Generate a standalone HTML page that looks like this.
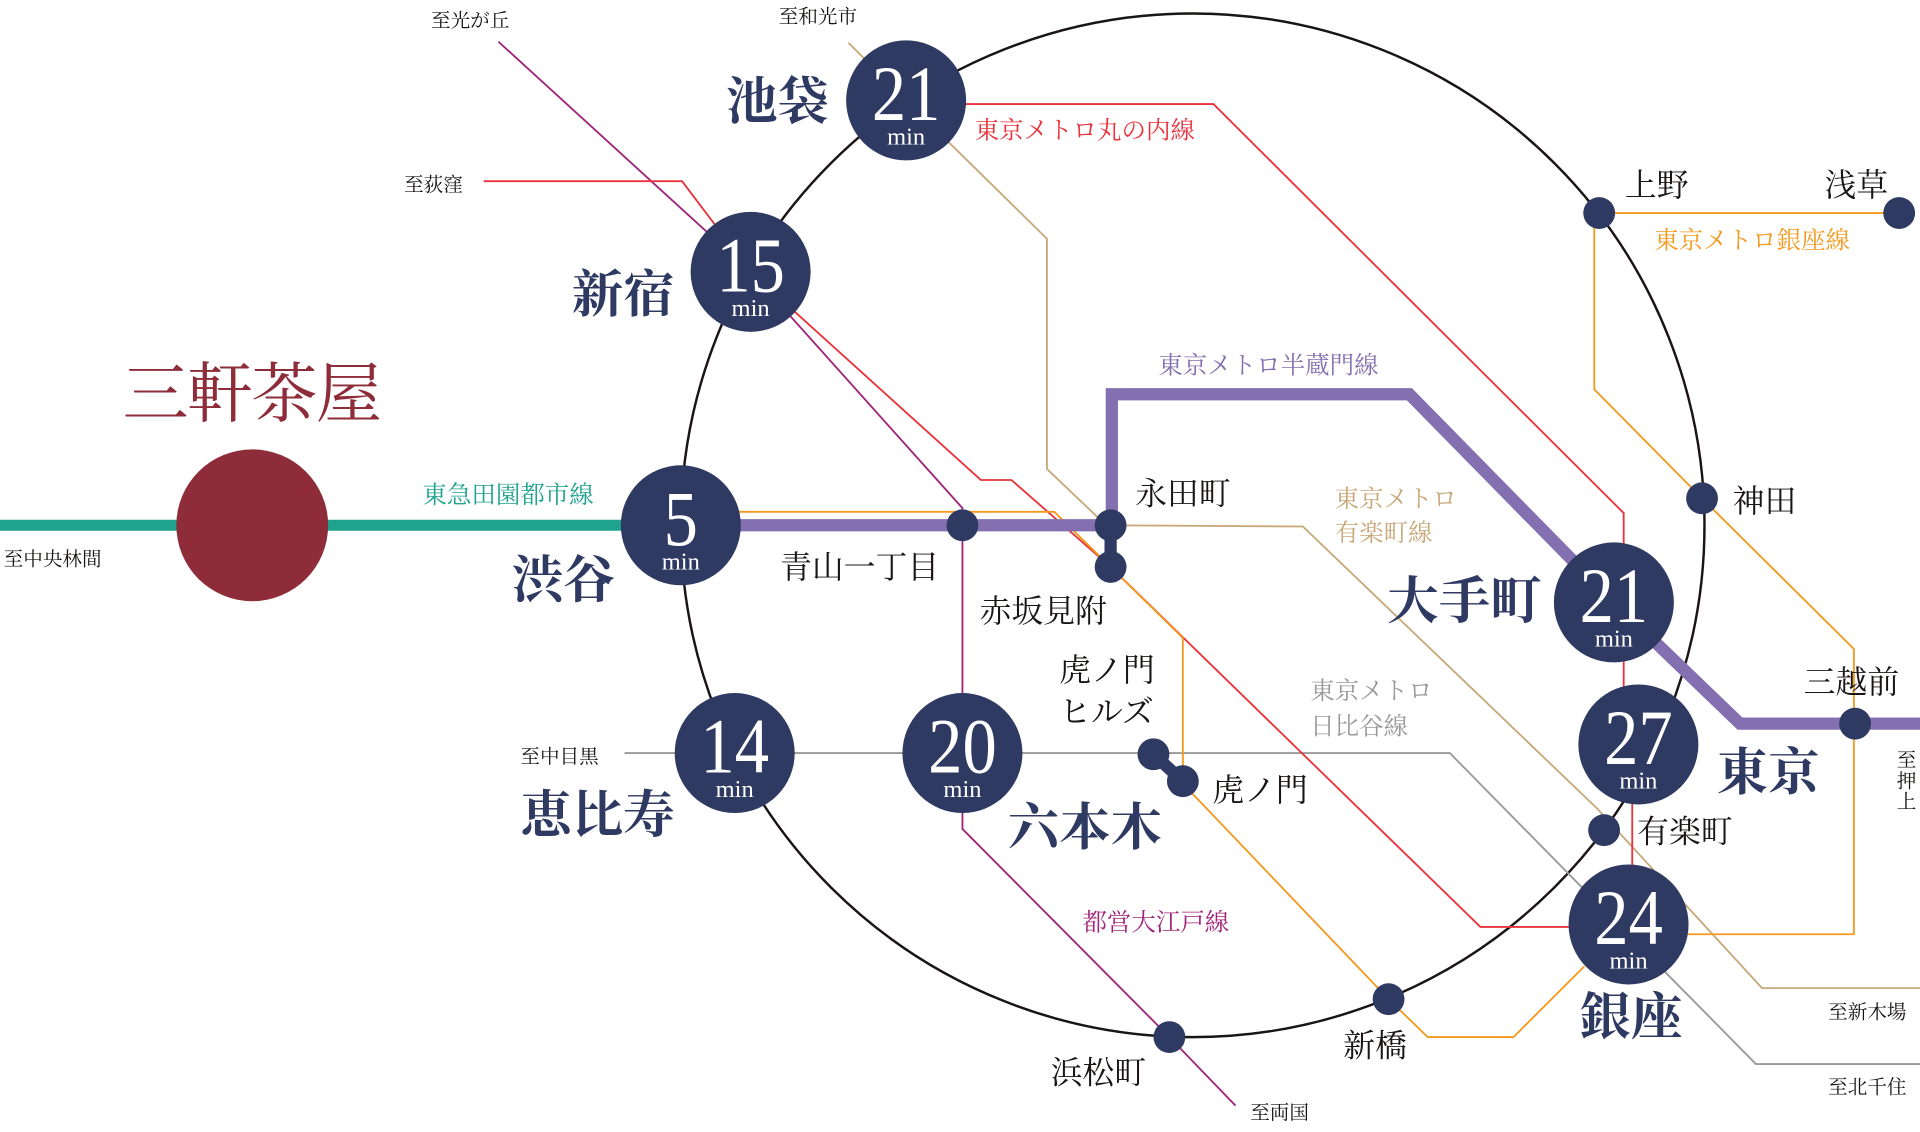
<!DOCTYPE html>
<html><head><meta charset="utf-8"><style>
html,body{margin:0;padding:0;background:#fff;}
svg{display:block;}
text{font-family:"Liberation Serif","Noto Serif CJK SC",serif;}
.n{fill:#fff;font-size:64px;text-anchor:middle;}
.m{fill:#fff;font-size:20px;text-anchor:middle;}
.bl{fill:#2f3a63;font-size:42px;font-weight:bold;}
.k{fill:#1a1414;font-size:26px;}
.s{fill:#1a1414;font-size:16px;}
.c{font-size:20px;}
</style></head><body>
<svg width="1920" height="1132" viewBox="0 0 1568 924.5" preserveAspectRatio="none" xmlns="http://www.w3.org/2000/svg">
<g fill="none" stroke-linejoin="miter">
<circle cx="974" cy="429" r="418" stroke="#1a1414" stroke-width="2"/>
<polyline points="693,35 740,82 855,195 855,383 896,422 907,429 1064,430 1304,660 1439,807 1568,807" stroke="#c8a87a" stroke-width="1.5"/>
<polyline points="510,615 942,615 1184,615 1361,795 1434,869 1568,869" stroke="#999" stroke-width="1.5"/>
<polyline points="407,34 613,222 786,415 786,677 955,847 1009,903" stroke="#a0257a" stroke-width="1.5"/>
<polyline points="395,148 557,148 613,222 801,392 826,392 907,463 1209,757 1330,757" stroke="#e8343c" stroke-width="1.5"/>
<polyline points="740,85 991,85 1326,419 1326,560 1333,620 1333,757" stroke="#e8343c" stroke-width="1.5"/>
<polyline points="556,418 861,418 966,521 966,640 1134,816 1166,847 1236,847 1294,789" stroke="#f39a1e" stroke-width="1.5"/>
<polyline points="1551,174 1302,174 1302,318 1390,407 1514,530 1514,763 1330,763" stroke="#f39a1e" stroke-width="1.5"/>
<line x1="0" y1="429" x2="556" y2="429" stroke="#1fa38e" stroke-width="9"/>
<polyline points="556,429 908,429 908,322 1151,322 1318,492 1421,591 1568,591" stroke="#8470b0" stroke-width="10"/>
<line x1="907" y1="429" x2="907" y2="463" stroke="#2f3a63" stroke-width="10"/>
<line x1="942" y1="616" x2="966" y2="638" stroke="#2f3a63" stroke-width="10"/>
</g>
<circle cx="206" cy="429" r="62" fill="#8e2d39"/>
<g fill="#2f3a63">
<circle cx="740" cy="82" r="49"/><circle cx="613" cy="222" r="49"/><circle cx="556" cy="429" r="49"/>
<circle cx="600" cy="615" r="49"/><circle cx="786" cy="615" r="49"/><circle cx="1318" cy="492" r="49"/>
<circle cx="1338" cy="608" r="49"/><circle cx="1330" cy="755" r="49"/>
<circle cx="1306" cy="174" r="13"/><circle cx="1551" cy="174" r="13"/><circle cx="1390" cy="407" r="13"/>
<circle cx="1515" cy="591" r="13"/><circle cx="786" cy="429" r="13"/><circle cx="907" cy="429" r="13"/>
<circle cx="907" cy="463" r="13"/><circle cx="942" cy="616" r="13"/><circle cx="966" cy="638" r="13"/>
<circle cx="1310" cy="678" r="13"/><circle cx="1134" cy="816" r="13"/><circle cx="955" cy="847" r="13"/>
</g>
<g>
<text class="n" x="740" y="98" textLength="56" lengthAdjust="spacingAndGlyphs">21</text><text class="m" x="740" y="118">min</text>
<text class="n" x="613" y="238" textLength="56" lengthAdjust="spacingAndGlyphs">15</text><text class="m" x="613" y="258">min</text>
<text class="n" x="556" y="445" textLength="28" lengthAdjust="spacingAndGlyphs">5</text><text class="m" x="556" y="465">min</text>
<text class="n" x="600" y="631" textLength="56" lengthAdjust="spacingAndGlyphs">14</text><text class="m" x="600" y="651">min</text>
<text class="n" x="786" y="631" textLength="56" lengthAdjust="spacingAndGlyphs">20</text><text class="m" x="786" y="651">min</text>
<text class="n" x="1318" y="508" textLength="56" lengthAdjust="spacingAndGlyphs">21</text><text class="m" x="1318" y="528">min</text>
<text class="n" x="1338" y="624" textLength="56" lengthAdjust="spacingAndGlyphs">27</text><text class="m" x="1338" y="644">min</text>
<text class="n" x="1330" y="771" textLength="56" lengthAdjust="spacingAndGlyphs">24</text><text class="m" x="1330" y="791">min</text>
</g>
<text x="100" y="340" fill="#8e2d39" font-size="54" textLength="212">三軒茶屋</text>
<text class="bl" x="418" y="488">渋谷</text>
<text class="bl" x="467" y="255">新宿</text>
<text class="bl" x="593" y="97">池袋</text>
<text class="bl" x="425" y="680">恵比寿</text>
<text class="bl" x="823" y="690">六本木</text>
<text class="bl" x="1133" y="505">大手町</text>
<text class="bl" x="1402" y="645">東京</text>
<text class="bl" x="1290" y="845">銀座</text>
<text class="k" x="637" y="472">青山一丁目</text>
<text class="k" x="927" y="412">永田町</text>
<text class="k" x="800" y="508">赤坂見附</text>
<text class="k" x="865" y="556">虎ノ門</text>
<text class="k" x="865" y="590">ヒルズ</text>
<text class="k" x="990" y="654">虎ノ門</text>
<text class="k" x="1337" y="688">有楽町</text>
<text class="k" x="1473" y="566">三越前</text>
<text class="k" x="1415" y="418">神田</text>
<text class="k" x="1327" y="160">上野</text>
<text class="k" x="1490" y="160">浅草</text>
<text class="k" x="1097" y="863">新橋</text>
<text class="k" x="858" y="885">浜松町</text>
<text class="s" x="3" y="462">至中央林間</text>
<text class="s" x="352" y="22">至光が丘</text>
<text class="s" x="636" y="19">至和光市</text>
<text class="s" x="330" y="156">至荻窪</text>
<text class="s" x="425" y="623">至中目黒</text>
<text class="s" x="1021" y="914">至両国</text>
<text class="s" x="1493" y="832">至新木場</text>
<text class="s" x="1493" y="893">至北千住</text>
<text class="s" x="1549" y="626">至</text><text class="s" x="1549" y="643">押</text><text class="s" x="1549" y="660">上</text>
<text class="c" x="345" y="411" fill="#1fa38e">東急田園都市線</text>
<text class="c" x="796" y="113" fill="#e8343c">東京メトロ丸の内線</text>
<text class="c" x="1351" y="203" fill="#f39a1e">東京メトロ銀座線</text>
<text class="c" x="946" y="305" fill="#8470b0">東京メトロ半蔵門線</text>
<text class="c" x="1090" y="414" fill="#c8a87a">東京メトロ</text>
<text class="c" x="1090" y="442" fill="#c8a87a">有楽町線</text>
<text class="c" x="1070" y="571" fill="#999">東京メトロ</text>
<text class="c" x="1070" y="600" fill="#999">日比谷線</text>
<text class="c" x="884" y="760" fill="#a0257a">都営大江戸線</text>
</svg>
</body></html>
